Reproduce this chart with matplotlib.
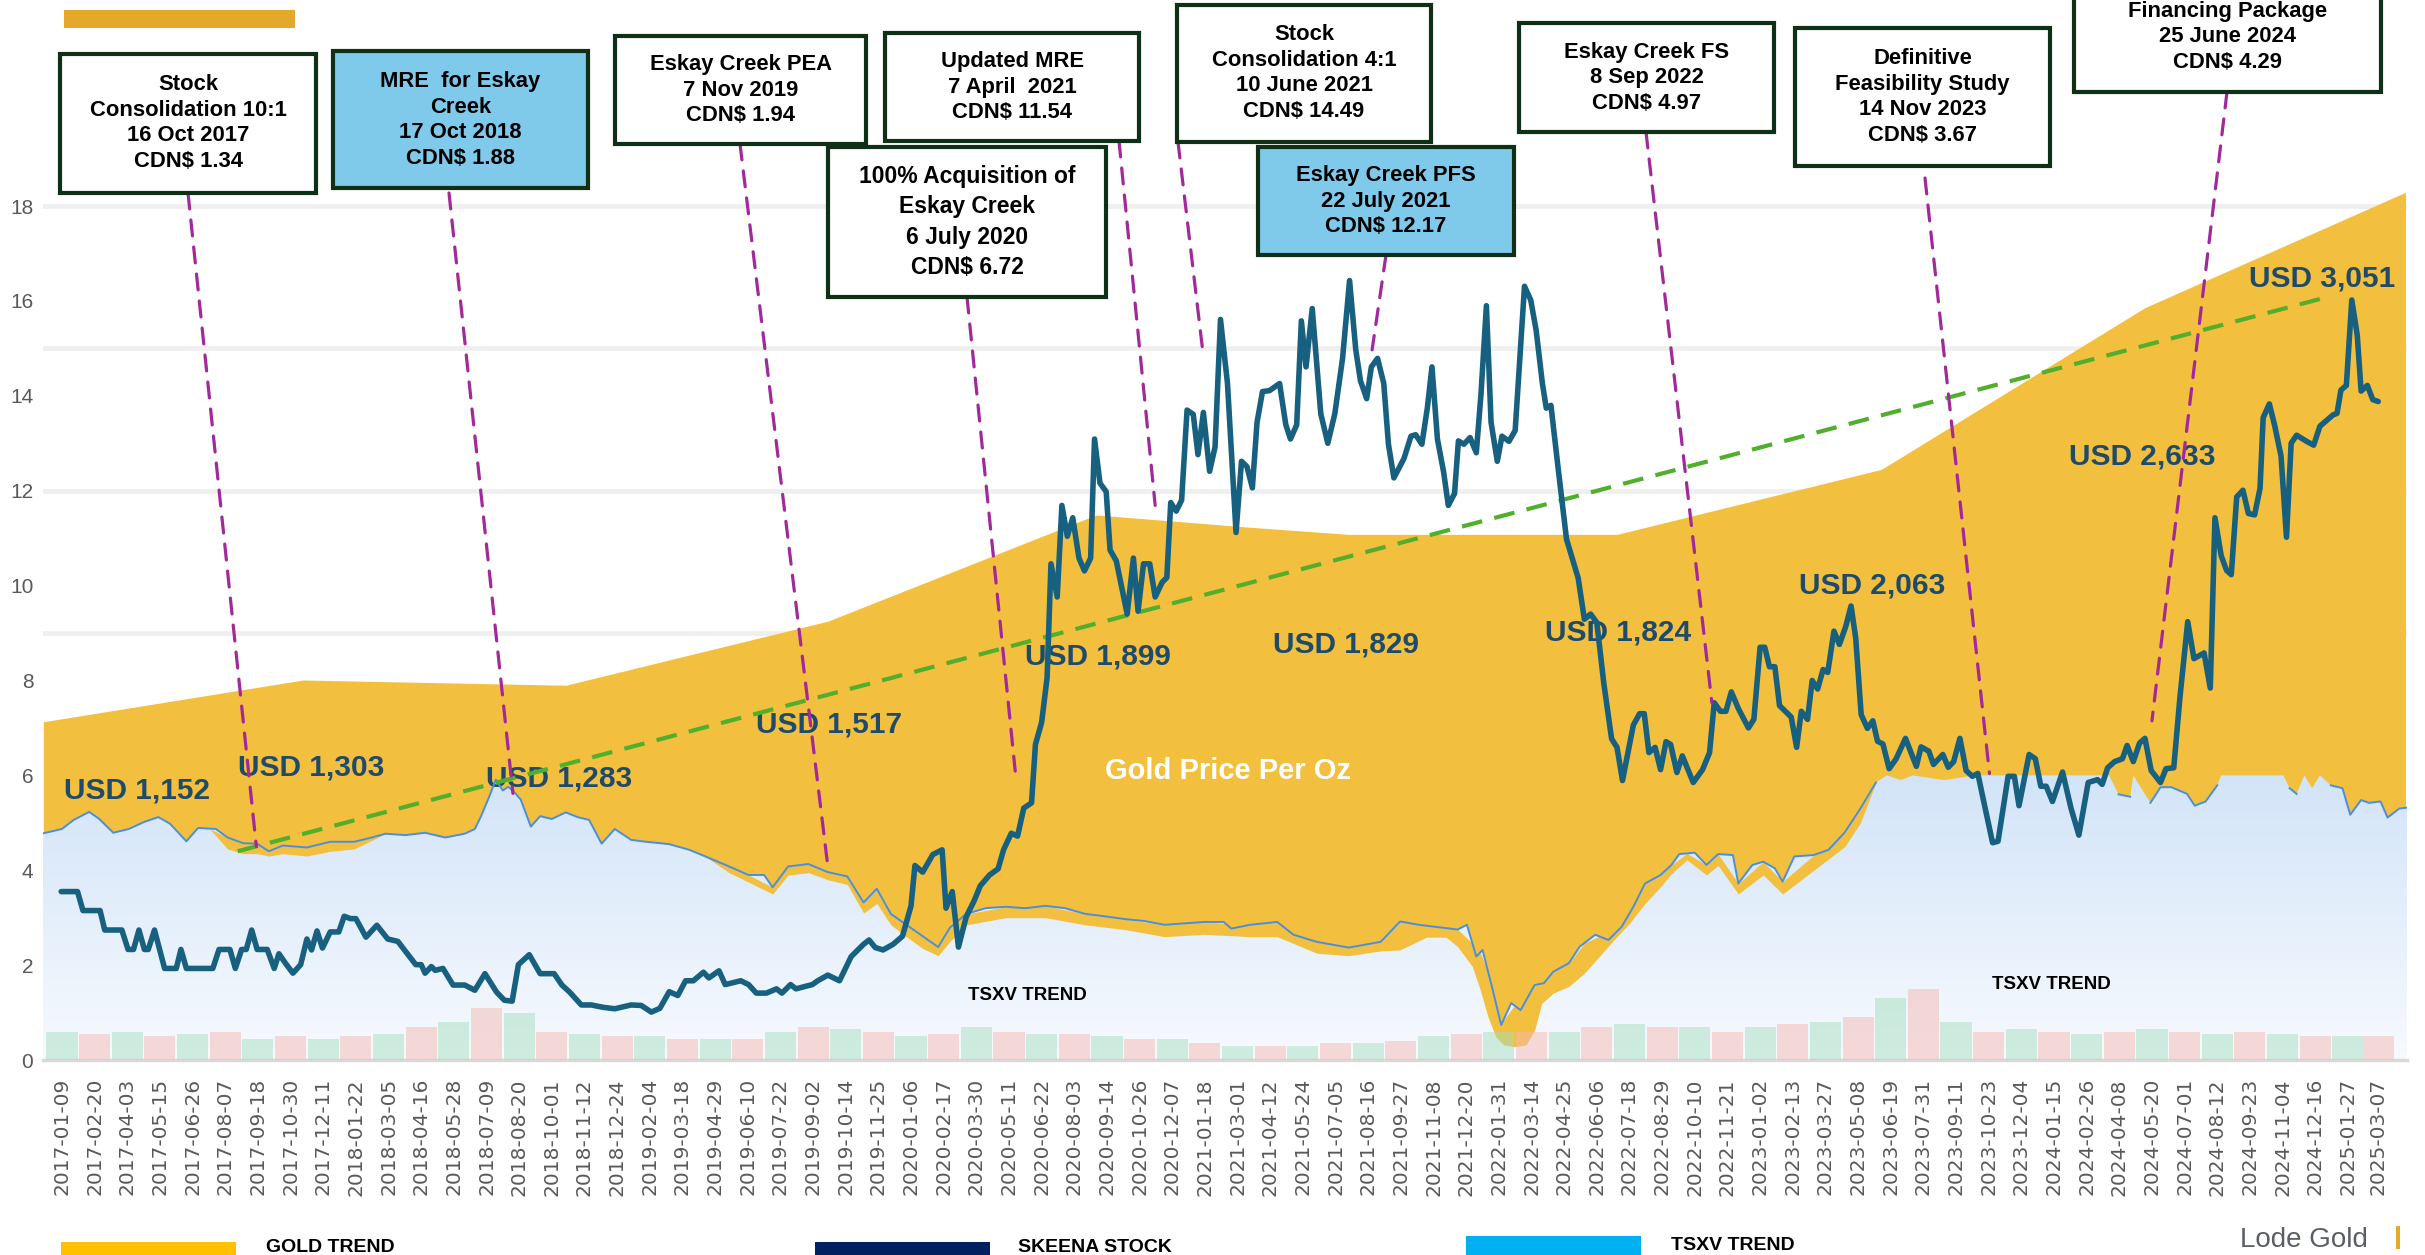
import numpy as np
import matplotlib
matplotlib.use("Agg")
import matplotlib.pyplot as plt
import matplotlib.dates as mdates
from matplotlib.patches import Rectangle, ConnectionPatch
from matplotlib.colors import LinearSegmentedColormap

# ---------------------------------------------------------------- data
# all series x-values are "days since 2017-01-09"
BASE = np.datetime64("2017-01-09")

tick_labels = [
    "2017-01-09", "2017-02-20", "2017-04-03", "2017-05-15", "2017-06-26", "2017-08-07",
    "2017-09-18", "2017-10-30", "2017-12-11", "2018-01-22", "2018-03-05", "2018-04-16",
    "2018-05-28", "2018-07-09", "2018-08-20", "2018-10-01", "2018-11-12", "2018-12-24",
    "2019-02-04", "2019-03-18", "2019-04-29", "2019-06-10", "2019-07-22", "2019-09-02",
    "2019-10-14", "2019-11-25", "2020-01-06", "2020-02-17", "2020-03-30", "2020-05-11",
    "2020-06-22", "2020-08-03", "2020-09-14", "2020-10-26", "2020-12-07", "2021-01-18",
    "2021-03-01", "2021-04-12", "2021-05-24", "2021-07-05", "2021-08-16", "2021-09-27",
    "2021-11-08", "2021-12-20", "2022-01-31", "2022-03-14", "2022-04-25", "2022-06-06",
    "2022-07-18", "2022-08-29", "2022-10-10", "2022-11-21", "2023-01-02", "2023-02-13",
    "2023-03-27", "2023-05-08", "2023-06-19", "2023-07-31", "2023-09-11", "2023-10-23",
    "2023-12-04", "2024-01-15", "2024-02-26", "2024-04-08", "2024-05-20", "2024-07-01",
    "2024-08-12", "2024-09-23", "2024-11-04", "2024-12-16", "2025-01-27", "2025-03-07",
]

# gold price trend (area top)
gold_days = [-24, 310, 648, 985, 1330, 1528, 1655, 2000, 2340, 2679, 3014]
gold_vals = [7.13, 8.01, 7.90, 9.25, 11.49, 11.23, 11.08, 11.08, 12.45, 15.86, 18.29]

# Skeena stock price (CDN$)
stock_days = [
    -1, 20, 27, 49, 55, 77, 85, 92, 99, 106, 111, 119, 132, 147, 153, 160, 194, 202, 216, 223,
    231, 237, 244, 251, 264, 273, 279, 287, 297, 307, 315, 321, 328, 335, 345, 356, 363, 371,
    378, 391, 405, 419, 432, 455, 462, 467, 475, 480, 490, 503, 518, 531, 544, 559, 569, 579,
    587, 601, 615, 633, 643, 653, 668, 681, 696, 711, 732, 745, 758, 769, 781, 792, 802, 812,
    825, 832, 845, 853, 873, 883, 893, 906, 919, 926, 937, 944, 965, 972, 985, 1000, 1015,
    1031, 1038, 1046, 1056, 1069, 1081, 1092, 1097, 1107, 1120, 1132, 1137, 1145, 1153, 1163,
    1173, 1181, 1193, 1204, 1211, 1221, 1229, 1237, 1247, 1252, 1260, 1267, 1272, 1280, 1286,
    1293, 1300, 1308, 1315, 1323, 1328, 1335, 1343, 1348, 1356, 1370, 1378, 1384, 1391, 1399,
    1406, 1415, 1421, 1426, 1433, 1440, 1447, 1455, 1461, 1468, 1476, 1483, 1490, 1499, 1510,
    1517, 1524, 1531, 1537, 1544, 1553, 1566, 1574, 1580, 1588, 1594, 1600, 1608, 1619, 1628,
    1637, 1647, 1656, 1664, 1670, 1678, 1684, 1692, 1700, 1706, 1713, 1726, 1735, 1741, 1749,
    1756, 1762, 1769, 1777, 1783, 1791, 1796, 1803, 1811, 1819, 1825, 1832, 1838, 1846, 1852,
    1861, 1869, 1881, 1889, 1896, 1904, 1909, 1915, 1924, 1935, 1950, 1958, 1966, 1974, 1983,
    1993, 2000, 2007, 2021, 2029, 2035, 2041, 2049, 2056, 2063, 2069, 2077, 2084, 2098, 2110,
    2119, 2125, 2133, 2140, 2147, 2156, 2169, 2176, 2184, 2190, 2196, 2203, 2209, 2224, 2231,
    2237, 2245, 2251, 2258, 2265, 2271, 2279, 2286, 2294, 2301, 2307, 2314, 2322, 2329, 2335,
    2342, 2350, 2359, 2371, 2385, 2391, 2401, 2407, 2419, 2426, 2433, 2441, 2449, 2457, 2464,
    2472, 2483, 2490, 2503, 2511, 2517, 2530, 2538, 2545, 2552, 2560, 2573, 2584, 2594, 2606,
    2618, 2624, 2631, 2640, 2650, 2656, 2664, 2672, 2679, 2687, 2699, 2706, 2716, 2724, 2734,
    2742, 2755, 2763, 2769, 2777, 2784, 2790, 2797, 2805, 2812, 2820, 2827, 2831, 2839, 2846,
    2854, 2861, 2867, 2874, 2887, 2896, 2904, 2911, 2921, 2926, 2931, 2938, 2945, 2952, 2957,
    2965, 2972, 2979,
]
stock_vals = [
    3.55, 3.55, 3.15, 3.15, 2.74, 2.74, 2.33, 2.33, 2.74, 2.33, 2.33, 2.74, 1.93, 1.93, 2.33, 1.93, 1.93, 2.33, 2.33, 1.93,
    2.33, 2.33, 2.74, 2.33, 2.33, 1.93, 2.24, 2.05, 1.83, 2.01, 2.55, 2.32, 2.72, 2.36, 2.70, 2.70, 3.03, 2.98,
    2.98, 2.59, 2.84, 2.55, 2.50, 2.01, 2.01, 1.83, 1.97, 1.89, 1.93, 1.58, 1.58, 1.47, 1.82, 1.43, 1.26, 1.24,
    2.01, 2.22, 1.82, 1.82, 1.58, 1.43, 1.16, 1.16, 1.11, 1.08, 1.16, 1.15, 1.01, 1.09, 1.44, 1.36, 1.67, 1.67,
    1.85, 1.73, 1.88, 1.59, 1.67, 1.59, 1.41, 1.41, 1.50, 1.41, 1.59, 1.50, 1.59, 1.67, 1.79, 1.67, 2.18,
    2.44, 2.53, 2.37, 2.32, 2.44, 2.61, 3.25, 4.10, 3.96, 4.33, 4.43, 3.20, 3.55, 2.38, 3.02,
    3.35, 3.67, 3.90, 4.03, 4.43, 4.78, 4.72, 5.31, 5.42, 6.65, 7.12, 8.06, 10.46, 9.76, 11.69,
    11.04, 11.43, 10.58, 10.31, 10.58, 13.09, 12.16, 11.98, 10.75, 10.52, 9.40, 10.58, 9.46, 10.46, 10.46,
    9.76, 10.07, 10.17, 11.75, 11.57, 11.80, 13.70, 13.61, 12.76, 13.65, 12.41, 12.92, 15.61, 14.26, 11.12,
    12.62, 12.51, 12.06, 13.44, 14.09, 14.11, 14.26, 13.39, 13.09, 13.39, 15.58, 14.61, 15.84, 13.62, 13.00,
    13.62, 14.79, 16.43, 14.97, 14.32, 13.94, 14.61, 14.79, 14.26, 12.98, 12.27, 12.68, 13.15, 13.18, 12.98,
    13.74, 14.61, 13.09, 12.39, 11.69, 11.94, 13.05, 12.98, 13.12, 12.80, 14.03, 15.90, 13.44, 12.62, 13.15,
    13.04, 13.27, 16.31, 16.02, 15.38, 14.26, 13.74, 13.80, 12.51, 10.98, 10.16, 9.29, 9.40, 9.22, 7.94,
    6.77, 6.59, 5.89, 7.06, 7.30, 7.30, 6.48, 6.59, 6.12, 6.71, 6.65, 6.06, 6.41, 5.85, 6.12,
    6.48, 7.53, 7.35, 7.35, 7.76, 7.41, 7.00, 7.18, 8.70, 8.70, 8.29, 8.29, 7.47, 7.23, 6.59,
    7.35, 7.18, 8.00, 7.82, 8.23, 8.17, 9.04, 8.76, 9.13, 9.57, 8.89, 7.28, 6.99, 7.15, 6.72,
    6.66, 6.14, 6.35, 6.78, 6.19, 6.60, 6.51, 6.23, 6.44, 6.17, 6.29, 6.78, 6.10, 5.98, 6.04,
    5.42, 4.58, 4.61, 5.98, 5.98, 5.36, 6.44, 6.35, 5.77, 5.77, 5.45, 6.07, 5.30, 4.74, 5.85,
    5.91, 5.81, 6.16, 6.29, 6.35, 6.63, 6.29, 6.68, 6.78, 6.10, 5.85, 6.14, 6.16, 7.65, 9.24,
    8.46, 8.58, 7.84, 11.43, 10.63, 10.32, 10.23, 11.87, 12.01, 11.52, 11.49, 12.05, 13.54, 13.83, 13.36,
    12.73, 11.02, 13.00, 13.17, 13.04, 12.96, 13.36, 13.46, 13.60, 13.63, 14.12, 14.22, 16.02, 15.28, 14.10,
    14.22, 13.92, 13.88,
]

# TSXV trend (rescaled, as shown on chart; chart crops it at 6)
tsxv_days = [
    -26, 0, 15, 35, 48, 66, 86, 106, 124, 139, 160, 175, 198, 213, 233, 251, 266, 284, 315, 345,
    376, 396, 416, 442, 467, 493, 518, 531, 539, 549, 558, 567, 574, 582, 590, 603, 615, 630, 648,
    663, 678, 694, 711, 732, 751, 781, 807, 832, 858, 883, 903, 914, 934, 960, 985, 1010, 1031,
    1048, 1066, 1086, 1107, 1127, 1142, 1163, 1188, 1214, 1239, 1265, 1290, 1316, 1341, 1367,
    1392, 1418, 1443, 1469, 1494, 1504, 1528, 1563, 1584, 1614, 1655, 1696, 1721, 1745, 1770,
    1795, 1807, 1819, 1827, 1839, 1851, 1864, 1876, 1894, 1906, 1918, 1938, 1952, 1972, 1989,
    2006, 2021, 2036, 2056, 2070, 2080, 2100, 2115, 2130, 2149, 2156, 2174, 2188, 2203, 2213,
    2228, 2253, 2272, 2293, 2313, 2333, 2347, 2365, 2380, 2421, 2460, 2500, 2540, 2580, 2620,
    2633, 2645, 2660, 2664, 2686, 2699, 2713, 2733, 2743, 2757, 2772, 2777, 2810, 2850, 2857,
    2865, 2874, 2884, 2894, 2904, 2918, 2933, 2943, 2957, 2967, 2982, 2991, 3006, 3016,
]
tsxv_vals = [
    4.77, 4.87, 5.06, 5.23, 5.08, 4.79, 4.87, 5.02, 5.12, 4.98, 4.61, 4.89, 4.87, 4.69, 4.57, 4.56, 4.40, 4.52, 4.48, 4.60,
    4.60, 4.68, 4.77, 4.74, 4.79, 4.69, 4.77, 4.87, 5.14, 5.53, 5.91, 5.68, 5.76, 5.64, 5.49, 4.92, 5.14, 5.08, 5.22,
    5.12, 5.06, 4.56, 4.87, 4.64, 4.60, 4.55, 4.43, 4.26, 4.08, 3.90, 3.90, 3.64, 4.08, 4.13, 3.96, 3.87, 3.32,
    3.61, 3.08, 2.85, 2.61, 2.38, 2.79, 3.08, 3.20, 3.23, 3.20, 3.25, 3.20, 3.08, 3.03, 2.97,
    2.93, 2.85, 2.88, 2.91, 2.91, 2.77, 2.85, 2.91, 2.64, 2.49, 2.37, 2.49, 2.92, 2.85, 2.80,
    2.75, 2.85, 2.18, 2.32, 1.55, 0.74, 1.20, 1.05, 1.58, 1.62, 1.86, 2.04, 2.39, 2.64, 2.53,
    2.81, 3.23, 3.72, 3.90, 4.11, 4.34, 4.37, 4.11, 4.34, 4.32, 3.72, 4.11, 4.18, 4.04, 3.76,
    4.29, 4.32, 4.43, 4.80, 5.30, 5.85, 6.00, 5.90, 6.00, 5.90, 6.00, 6.00, 6.00, 6.00, 6.00,
    6.00, 5.60, 5.55, 6.00, 5.42, 5.75, 5.75, 5.61, 5.36, 5.45, 5.79, 6.00, 6.00, 6.00, 6.00,
    5.73, 5.61, 6.00, 5.73, 6.00, 5.79, 5.73, 5.17, 5.48, 5.42, 5.45, 5.11, 5.30, 5.32,
]

# gold-coloured band showing below the TSXV line (lower edge), two stretches
halo1_days = [190, 213, 233, 251, 266, 284, 315, 345, 376, 416]
halo1_vals = [4.87, 4.45, 4.35, 4.35, 4.30, 4.35, 4.30, 4.40, 4.45, 4.77]
halo2_days = [830, 858, 883, 914, 934, 960, 985, 1010, 1031, 1048, 1066, 1086, 1107, 1127, 1142,
              1163, 1214, 1265, 1316, 1367, 1418, 1469, 1528, 1563, 1614, 1655, 1696, 1721, 1755,
              1780, 1795, 1814, 1824, 1834, 1844, 1854, 1868, 1883, 1894, 1903, 1918, 1938, 1958,
              1977, 1996, 2016, 2036, 2056, 2070, 2090, 2115, 2130, 2156, 2188, 2213, 2253, 2293,
              2313, 2333]
halo2_vals = [4.26, 3.95, 3.75, 3.50, 3.90, 3.95, 3.80, 3.70, 3.10, 3.30, 2.85, 2.60, 2.35, 2.20, 2.50,
              2.85, 3.00, 3.00, 2.85, 2.75, 2.60, 2.65, 2.60, 2.60, 2.25, 2.20, 2.30, 2.32, 2.59,
              2.59, 2.39, 1.97, 1.48, 0.91, 0.49, 0.32, 0.28, 0.32, 0.63, 1.19, 1.41, 1.55, 1.83,
              2.18, 2.53, 2.88, 3.30, 3.65, 3.93, 4.22, 3.90, 4.10, 3.50, 3.90, 3.50, 4.00, 4.50,
              5.00, 5.85]

# TSXV volume (one reading per tick date)
volume_vals = [0.60, 0.55, 0.60, 0.50, 0.55, 0.60, 0.45, 0.50, 0.45, 0.50, 0.55, 0.70,
               0.80, 1.10, 1.00, 0.60, 0.55, 0.50, 0.50, 0.45, 0.45, 0.45, 0.60, 0.70,
               0.65, 0.60, 0.50, 0.55, 0.70, 0.60, 0.55, 0.55, 0.50, 0.45, 0.45, 0.35,
               0.30, 0.30, 0.30, 0.35, 0.35, 0.40, 0.50, 0.55, 0.60, 0.60, 0.60, 0.70,
               0.75, 0.70, 0.70, 0.60, 0.70, 0.75, 0.80, 0.90, 1.30, 1.50, 0.80, 0.60,
               0.65, 0.60, 0.55, 0.60, 0.65, 0.60, 0.55, 0.60, 0.55, 0.50, 0.50, 0.50]

# dashed green trend
trend_days = [226, 2913]
trend_vals = [4.40, 16.08]

# annual gold price labels: text, day, value
gold_labels = ["USD 1,152", "USD 1,303", "USD 1,283", "USD 1,517", "USD 1,899",
               "USD 1,829", "USD 1,824", "USD 2,063", "USD 2,633", "USD 3,051"]
gold_label_days = [96, 320, 640, 986, 1333, 1652, 2001, 2328, 2675, 2907]
gold_label_vals = [5.69, 6.16, 5.93, 7.08, 8.50, 8.76, 9.02, 10.00, 12.73, 16.48]

# event call-outs
event_texts = [
    "Stock\nConsolidation 10:1\n16 Oct 2017\nCDN$ 1.34",
    "MRE  for Eskay\nCreek\n17 Oct 2018\nCDN$ 1.88",
    "Eskay Creek PEA\n7 Nov 2019\nCDN$ 1.94",
    "Updated MRE\n7 April  2021\nCDN$ 11.54",
    "100% Acquisition of\nEskay Creek\n6 July 2020\nCDN$ 6.72",
    "Stock\nConsolidation 4:1\n10 June 2021\nCDN$ 14.49",
    "Eskay Creek PFS\n22 July 2021\nCDN$ 12.17",
    "Eskay Creek FS\n8 Sep 2022\nCDN$ 4.97",
    "Definitive\nFeasibility Study\n14 Nov 2023\nCDN$ 3.67",
    "Financing Package\n25 June 2024\nCDN$ 4.29",
]
event_days = [250, 580, 985, 1406, 1226, 1467, 1685, 2122, 2479, 2688]
event_vals = [4.50, 5.62, 4.08, 11.69, 6.09, 14.97, 14.97, 7.53, 6.04, 7.15]

# ---------------------------------------------------------------- layout / style
W, H = 2425, 1255
box_px = [(60, 54, 316, 193), (333, 51, 588, 188), (615, 36, 866, 144), (885, 33, 1139, 141),
          (828, 147, 1106, 297), (1177, 5, 1431, 142), (1258, 147, 1514, 255),
          (1519, 23, 1774, 132), (1795, 28, 2050, 166), (2074, -60, 2381, 92)]
box_fill = ["white", "#7FC9EA", "white", "white", "white", "white", "#7FC9EA",
            "white", "white", "white"]
anchor_px = [(188, 193), (449, 193), (740, 144), (1119, 141), (967, 297), (1178, 142),
             (1386, 255), (1646, 132), (1925, 178), (2227, 92)]
text_cy = [123, 120, 90, 87, 222, 73, 201, 78, 97, 37]

GOLD = "#F3BF3E"
FONT = "Liberation Sans"
BASE_NUM = mdates.date2num(BASE)


def xnum(days):
    return BASE_NUM + np.asarray(days, dtype=float)


fig = plt.figure(figsize=(W / 100, H / 100), dpi=100)
fig.patch.set_facecolor("white")
ax = fig.add_axes([43 / W, (H - 1060) / H, 2364 / W, 19 * 47.44 / H])

# grid
for gv in [9, 12, 15, 18]:
    ax.axhline(gv, color="#EFEFEF", lw=3.5, zorder=0.5)

# gold area
ax.fill_between(xnum(gold_days), 0, gold_vals, color=GOLD, lw=0, zorder=1)

# TSXV gradient area
tx = xnum(tsxv_days)
tv = np.array(tsxv_vals)
poly = ax.fill_between(tx, 0, tv, facecolor="none", lw=0, zorder=2)
cmap = LinearSegmentedColormap.from_list("tsxv", ["#F7FAFE", "#D2E4F8"])
grad = np.linspace(1, 0, 256).reshape(-1, 1)
im = ax.imshow(grad, extent=[tx[0], tx[-1], 0, 6.05], aspect="auto", cmap=cmap,
               origin="upper", zorder=2, interpolation="bilinear")
im.set_clip_path(poly.get_paths()[0], transform=ax.transData)

# gold halo below TSXV line
for hd, hvals in [(halo1_days, halo1_vals), (halo2_days, halo2_vals)]:
    hx = xnum(hd)
    hv = np.array(hvals)
    line_at_h = np.interp(hx, tx, tv)
    ax.fill_between(hx, hv, line_at_h, where=hv < line_at_h, interpolate=True,
                    color=GOLD, lw=0, zorder=2.5)

# volume bars
tick_x = mdates.date2num(np.array(tick_labels, dtype="datetime64[D]"))
vol_colors = ["#A6DEC0" if i % 2 == 0 else "#F4B9B3" for i in range(len(volume_vals))]
ax.bar(tick_x, volume_vals, width=40, color=vol_colors, alpha=0.5, lw=0, zorder=3)

# TSXV line (hidden where cropped at the top)
ax.plot(tx, np.ma.masked_where(tv >= 5.99, tv), color="#4A8FDB", lw=1.4, zorder=4)

# green trend
ax.plot(xnum(trend_days), trend_vals, color="#52AE2D", lw=3, ls=(0, (5, 3)), zorder=5)

# gold labels
for t, d, v in zip(gold_labels, gold_label_days, gold_label_vals):
    ax.text(xnum(d), v, t, ha="center", va="center", fontsize=21.5, fontweight="bold",
            color="#1F4B6B", family=FONT, zorder=3.6)
ax.text(xnum(1500), 6.09, "Gold Price Per Oz", ha="center", va="center", fontsize=21,
        fontweight="bold", color="white", family=FONT, zorder=3.6)
ax.text(xnum(1241), 1.36, "TSXV TREND", ha="center", va="center", fontsize=13.5,
        fontweight="bold", color="black", family=FONT, zorder=3.6)
ax.text(xnum(2559), 1.60, "TSXV TREND", ha="center", va="center", fontsize=13.5,
        fontweight="bold", color="black", family=FONT, zorder=3.6)

# stock line
ax.plot(xnum(stock_days), stock_vals, color="#17607F", lw=4, zorder=6,
        solid_joinstyle="round", solid_capstyle="round")

# axes styling
ax.set_xlim(xnum(-24.4), xnum(3016))
ax.set_ylim(0, 19)
ax.set_facecolor("none")
for s in ["top", "right", "left"]:
    ax.spines[s].set_visible(False)
ax.spines["bottom"].set_color("#D9D9D9")
ax.spines["bottom"].set_linewidth(2.5)
ax.set_xticks(tick_x)
ax.set_xticklabels(tick_labels, rotation=90, fontsize=14.5, color="#595959",
                   family="DejaVu Sans")
ax.set_yticks(np.arange(0, 19, 2))
ax.set_yticklabels([str(v) for v in range(0, 19, 2)], fontsize=15, color="#595959",
                   family=FONT)
ax.tick_params(axis="x", length=0, pad=13)
ax.tick_params(axis="y", length=0, pad=7)

# event boxes and connectors
for i, txt in enumerate(event_texts):
    x0, y0, x1, y1 = box_px[i]
    rect = Rectangle((x0 / W, 1 - y1 / H), (x1 - x0) / W, (y1 - y0) / H,
                     transform=fig.transFigure, facecolor=box_fill[i],
                     edgecolor="#0F2F16", lw=3, zorder=10)
    fig.add_artist(rect)
    fs = 16.5 if i == 4 else 15.8
    ls = 1.40 if i == 4 else 1.30
    fig.text((x0 + x1) / 2 / W, 1 - text_cy[i] / H, txt, ha="center", va="center",
             multialignment="center", fontsize=fs, fontweight="bold", color="black",
             family=FONT, linespacing=ls, zorder=11)
    ax_, ay_ = anchor_px[i]
    con = ConnectionPatch(xyA=(ax_ / W, 1 - ay_ / H), coordsA=fig.transFigure,
                          xyB=(xnum(event_days[i]), event_vals[i]), coordsB=ax.transData,
                          color="#A2299A", lw=2.3, ls=(0, (5, 3.5)), zorder=9)
    fig.add_artist(con)

# top-left bar
fig.add_artist(Rectangle((64 / W, 1 - 28 / H), 231 / W, 18 / H, transform=fig.transFigure,
                         facecolor="#E3A92B", lw=0))

# bottom legend
leg = [(61, 1242, "#FFC000", 266, "GOLD TREND", 1252),
       (815, 1242, "#002060", 1018, "SKEENA STOCK", 1252),
       (1466, 1236, "#00B0F0", 1671, "TSXV TREND", 1250)]
for rx, ry, rc, tx_, tt, tb in leg:
    fig.add_artist(Rectangle((rx / W, 0), 175 / W, (H - ry) / H, transform=fig.transFigure,
                             facecolor=rc, lw=0))
    fig.text(tx_ / W, 1 - tb / H, tt, ha="left", va="baseline", fontsize=14,
             fontweight="bold", color="black", family=FONT)
fig.text(2240 / W, 1 - 1247 / H, "Lode Gold", ha="left", va="baseline", fontsize=20,
         color="#5A5F66", family=FONT)
fig.add_artist(Rectangle((2396 / W, 1 - 1249 / H), 3.5 / W, 23 / H, transform=fig.transFigure,
                         facecolor="#E6A925", lw=0))

fig.savefig("out.png", dpi=100)
